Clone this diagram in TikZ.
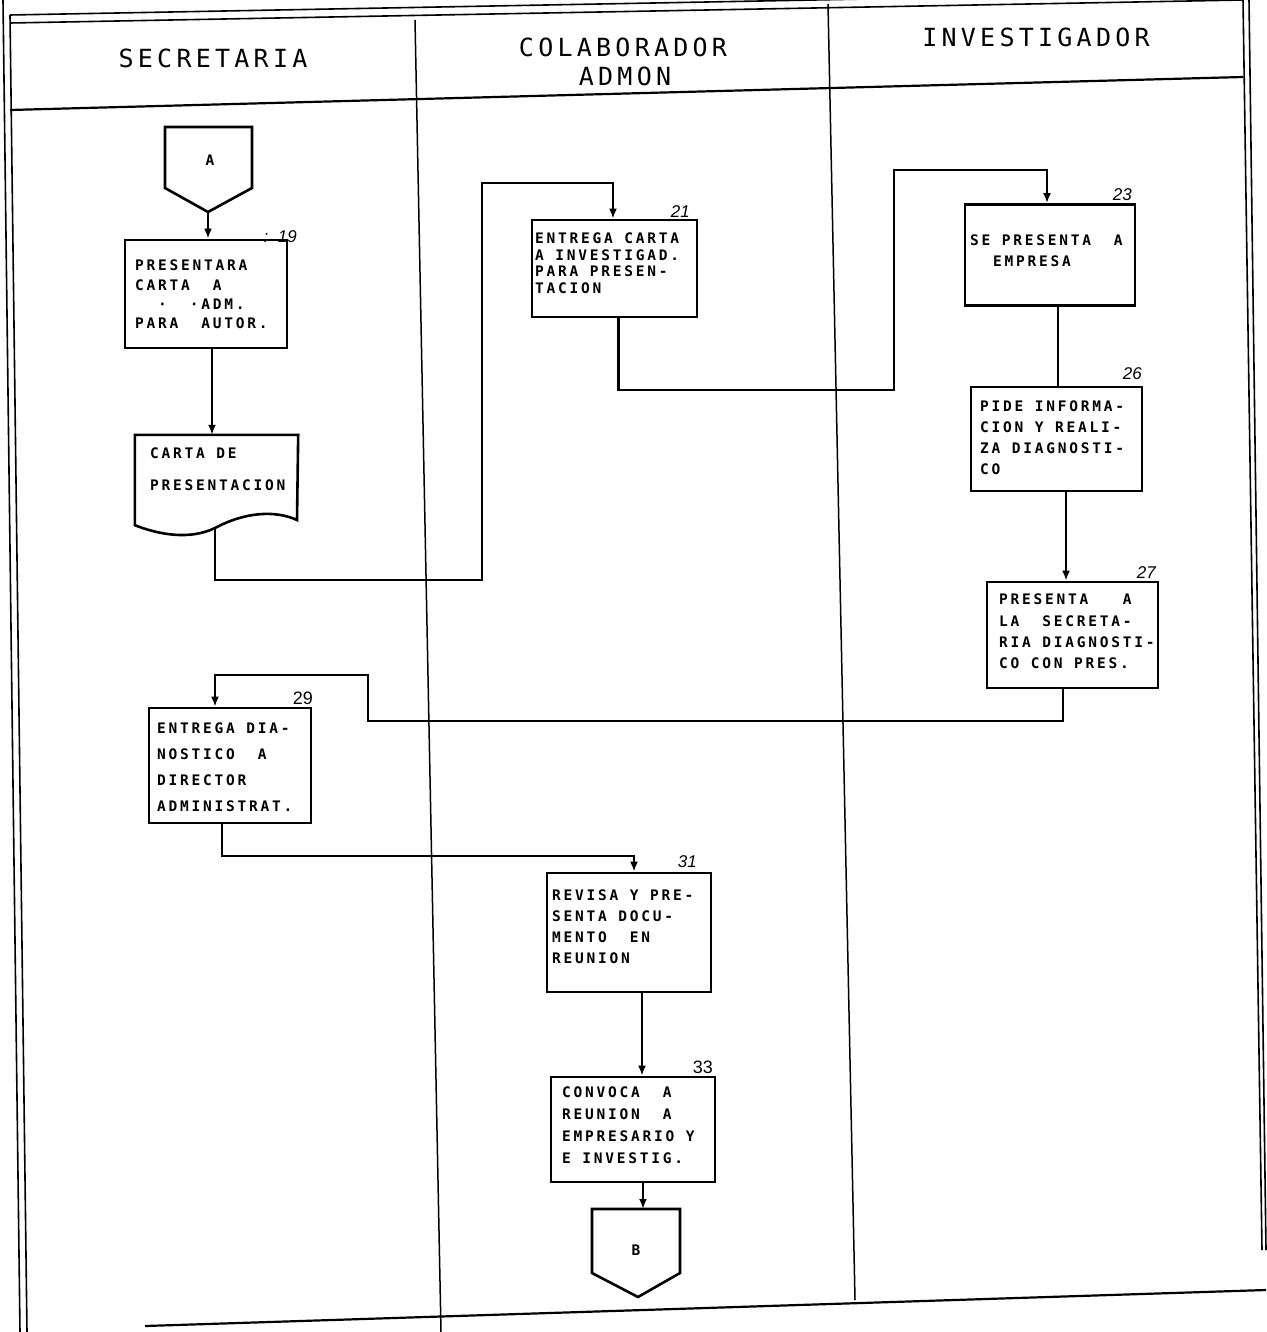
\documentclass[tikz,border=0pt]{standalone}
\usepackage{fontspec}
\newfontfamily\boxfont{DejaVu Sans Mono}[LetterSpace=19]
\newfontfamily\headfont{DejaVu Sans Mono}[LetterSpace=17]
\newfontfamily\numfont{Liberation Sans}
\usetikzlibrary{arrows.meta}
\begin{document}
\begin{tikzpicture}[x=1pt,y=-1pt,
  frame/.style={line width=1.6pt},
  lane/.style={line width=1.5pt},
  proc/.style={draw, line width=2.8pt, rectangle, inner sep=0pt},
  txt/.style={anchor=north west, inner sep=0pt, align=left,
    font=\boxfont\bfseries\fontsize{14.5}{#1}\selectfont},
  head/.style={anchor=base, inner sep=0pt, font=\headfont\fontsize{25}{29}\selectfont},
  num/.style={anchor=south east, inner sep=0pt, font=\numfont\itshape\fontsize{17}{17}\selectfont},
  numup/.style={num, font=\numfont\fontsize{18}{18}\selectfont},
  link/.style={line width=2.6pt, -{Latex[length=10pt,width=8pt]}},
  plain/.style={line width=2.6pt},
  conn/.style={line width=2.6pt, line join=miter},
]
\useasboundingbox (0,0) rectangle (1266,1332);

% sheet frame (double border) and swimlane rules
\draw[frame] (3,0) -- (20,1332);
\draw[frame] (10,15) -- (27,1332);
\draw[frame] (1243,0) -- (1262,1250);
\draw[frame] (1249,0) -- (1266,1250);
\draw[frame] (10,15) -- (1243,-8);
\draw[frame] (10,23) -- (1243,0);
\draw[line width=2.2pt] (10,110) -- (1243,77);
\draw[lane] (415,20) -- (441,1332);
\draw[lane] (828,4) -- (855,1300);
\draw[line width=2.2pt] (145,1326) -- (1266,1290);

% lane headings
\node[head] (hsec) at (213,68) {SECRETARIA};
\node[head] (hcol) at (623,57) {COLABORADOR};
\node[head] (hadm) at (625,86) {ADMON};
\node[head] (hinv) at (1036,47) {INVESTIGADOR};

% off-page connector A
\coordinate (Atip) at (208,212);
\draw[conn] (165,127) -- (252,127) -- (252,188) -- (Atip) -- (165,188) -- cycle;
\node[font=\boxfont\bfseries\fontsize{14.5}{14.5}\selectfont] (conA) at (210,160) {A};

% process boxes
\node[proc, minimum width=162pt, minimum height=108pt] (b19) at (206,294) {};
\node[txt=19.3] (t19) at (135,260) {PRESENTARA\\CARTA\ \ A\\\ \ ·\ \ ·ADM.\\PARA\ \ AUTOR.};
\node[num] (n19) at (297,243) {:\ \ 19};

\node[proc, minimum width=165pt, minimum height=97pt] (b21) at (614.5,268.5) {};
\node[txt=16.5] (t21) at (535,233) {ENTREGA CARTA\\A INVESTIGAD.\\PARA PRESEN-\\TACION};
\node[num] (n21) at (690,218) {21};

\node[proc, minimum width=170pt, minimum height=101pt] (b23) at (1050,255) {};
\node[txt=21] (t23) at (970,235) {SE PRESENTA\ \ A\\\ \ EMPRESA};
\node[num] (n23) at (1132,201) {23};

\node[proc, minimum width=171pt, minimum height=104pt] (b26) at (1056.5,439) {};
\node[txt=20.7] (t26) at (980,401) {PIDE INFORMA-\\CION Y REALI-\\ZA DIAGNOSTI-\\CO};
\node[num] (n26) at (1142,380) {26};

\node[proc, minimum width=171pt, minimum height=106pt] (b27) at (1072.5,635) {};
\node[txt=21.3] (t27) at (999,594) {PRESENTA\ \ \ A\\LA\ \ SECRETA-\\RIA DIAGNOSTI-\\CO CON PRES.};
\node[num] (n27) at (1156,579) {27};

\node[proc, minimum width=162pt, minimum height=115pt] (b29) at (230,765.5) {};
\node[txt=25.7] (t29) at (157,723) {ENTREGA DIA-\\NOSTICO\ \ A\\DIRECTOR\\ADMINISTRAT.};
\node[numup] (n29) at (313,705) {29};

\node[proc, minimum width=164pt, minimum height=119pt] (b31) at (629,932.5) {};
\node[txt=20.7] (t31) at (552,890) {REVISA Y PRE-\\SENTA DOCU-\\MENTO\ \ EN\\REUNION};
\node[num] (n31) at (697,868) {31};

\node[proc, minimum width=164pt, minimum height=105pt] (b33) at (633,1129.5) {};
\node[txt=21.7] (t33) at (562,1087) {CONVOCA\ \ A\\REUNION\ \ A\\EMPRESARIO Y\\E INVESTIG.};
\node[numup] (n33) at (713,1074) {33};

% document symbol
\node[minimum width=163pt, minimum height=90pt, inner sep=0pt] (doc) at (216.5,480) {};
\coordinate (docout) at (215,528);
\draw[conn] (doc.north west) -- (doc.north east) -- (297,520)
  .. controls (275,510) and (245,512) .. (docout)
  .. controls (190,540) and (160,535) .. (doc.south west) -- cycle;
\node[txt=32] (tdoc) at (150,448) {CARTA DE\\PRESENTACION};

% off-page connector B
\coordinate (Btop) at (638,1209);
\coordinate (Btip) at (638,1297);
\draw[conn] (592,1209) -- (680,1209) -- (680,1273) -- (Btip) -- (592,1273) -- cycle;
\node[font=\boxfont\bfseries\fontsize{14.5}{14.5}\selectfont] (conB) at (636,1250) {B};

% bends of the routed connectors
\coordinate (k1) at (482,580);
\coordinate (k2) at (482,183);
\coordinate (k3) at (894,390);
\coordinate (k4) at (894,170);
\coordinate (k5) at (368,721);
\coordinate (k6) at (368,675);
\coordinate (k7) at (634,856);

% flow
\draw[link] (Atip) -- (Atip |- b19.north);
\draw[link] ([xshift=6pt]b19.south) -- ([xshift=6pt]b19.south |- doc.north);
\draw[link] (docout) |- (k1) -- (k2) -| ([xshift=-1.5pt]b21.north);
\draw[link] ([xshift=4pt]b21.south) |- (k3) -- (k4) -| ([xshift=-3pt]b23.north);
\draw[plain] ([xshift=8pt]b23.south) -- ([xshift=8pt]b23.south |- b26.north);
\draw[link] ([xshift=9.5pt]b26.south) -- ([xshift=9.5pt]b26.south |- b27.north);
\draw[link] ([xshift=-9.5pt]b27.south) |- (k5) -- (k6) -| ([xshift=-15pt]b29.north);
\draw[link] ([xshift=-8pt]b29.south) |- (k7) -- (k7 |- b31.north);
\draw[link] ([xshift=13pt]b31.south) -- ([xshift=13pt]b31.south |- b33.north);
\draw[link] ([xshift=10pt]b33.south) -- ([xshift=10pt]b33.south |- Btop);
\end{tikzpicture}
\end{document}
